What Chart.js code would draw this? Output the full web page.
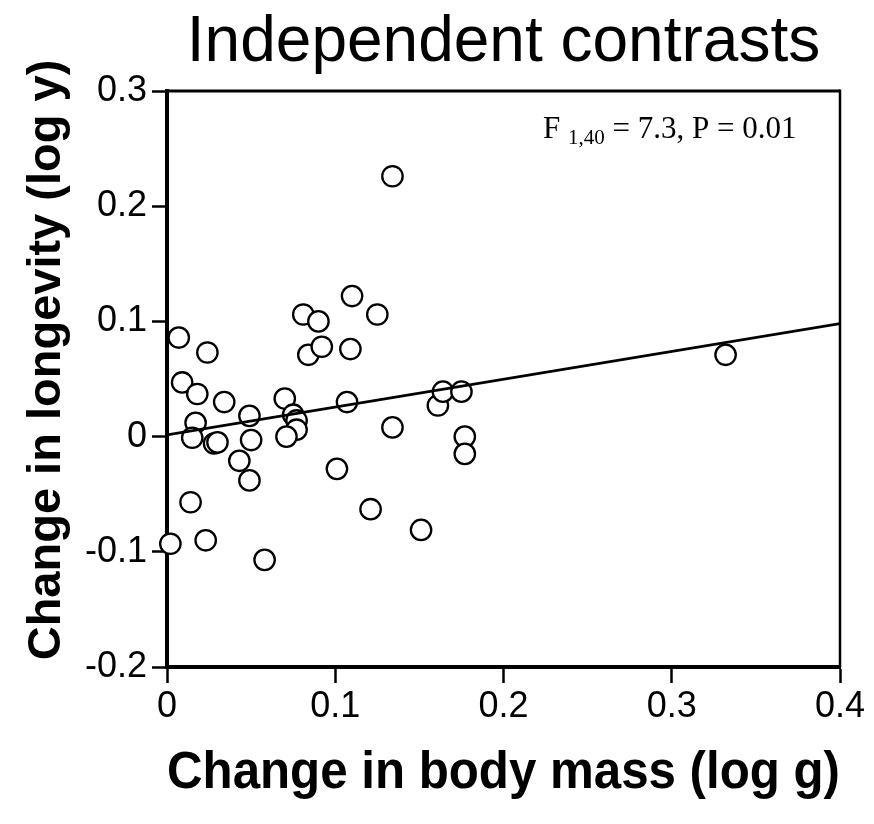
<!DOCTYPE html>
<html>
<head>
<meta charset="utf-8">
<script src="https://cdn.jsdelivr.net/npm/chart.js@4.4.1/dist/chart.umd.min.js"></script>
<style>
  html, body { margin: 0; padding: 0; background: #fff; }
</style>
</head>
<body>
<canvas id="chart" width="874" height="824"></canvas>
<script>
// --- Data ---
const massChange = [0.007, 0.024, 0.009, 0.018, 0.034, 0.017, 0.015, 0.028, 0.030, 0.049,
  0.050, 0.043, 0.049, 0.014, 0.002, 0.023, 0.058, 0.070, 0.075, 0.077,
  0.077, 0.071, 0.081, 0.090, 0.084, 0.092, 0.110, 0.109, 0.125, 0.107,
  0.101, 0.121, 0.134, 0.134, 0.151, 0.161, 0.164, 0.175, 0.177, 0.177, 0.332];
const longevityChange = [0.086, 0.073, 0.047, 0.037, 0.030, 0.012, -0.001, -0.006, -0.005, 0.018,
  -0.003, -0.021, -0.038, -0.057, -0.093, -0.090, -0.107, 0.033, 0.019, 0.014,
  0.006, 0.000, 0.106, 0.100, 0.071, 0.078, 0.122, 0.076, 0.106, 0.030,
  -0.028, -0.063, 0.226, 0.008, -0.081, 0.027, 0.039, 0.039, 0.000, -0.015, 0.071];
const fitX = [0, 0.4];
const fitY = [0.0015, 0.098];
const xRange = [0, 0.4];
const yRange = [-0.2, 0.3];
const tickStep = 0.1;

const chartTitle = 'Independent contrasts';
const xTitle = 'Change in body mass (log g)';
const yTitle = 'Change in longevity (log y)';
const statMain = 'F ';
const statSub = '1,40';
const statRest = ' = 7.3, P = 0.01';

const SANS = '"Liberation Sans", Arial, Helvetica, sans-serif';
const SERIF = '"Liberation Serif", "Times New Roman", serif';

// y title, closed frame and stats text are drawn by hand
const extras = {
  id: 'extras',
  afterDraw(chart) {
    const { ctx, chartArea: a } = chart;
    ctx.save();
    ctx.strokeStyle = '#000';
    ctx.lineWidth = 3;
    ctx.beginPath();
    ctx.moveTo(a.left, a.top);
    ctx.lineTo(a.right, a.top);
    ctx.stroke();
    ctx.lineWidth = 2.5;
    ctx.beginPath();
    ctx.moveTo(a.right, a.top - 1.5);
    ctx.lineTo(a.right, a.bottom);
    ctx.stroke();

    ctx.fillStyle = '#000';
    ctx.textBaseline = 'alphabetic';
    ctx.textAlign = 'left';
    let x = a.right - 297;
    const y = a.top + 47;
    ctx.font = '31px ' + SERIF;
    ctx.fillText(statMain, x, y);
    x += ctx.measureText(statMain).width;
    ctx.font = '21px ' + SERIF;
    ctx.fillText(statSub, x, y + 6);
    x += ctx.measureText(statSub).width;
    ctx.font = '31px ' + SERIF;
    ctx.fillText(statRest, x, y);

    ctx.font = 'bold 47px ' + SANS;
    ctx.textAlign = 'center';
    ctx.translate(60, (a.top + a.bottom) / 2 - 19);
    ctx.rotate(-Math.PI / 2);
    ctx.fillText(yTitle, 0, 0);
    ctx.restore();
  }
};

new Chart(document.getElementById('chart'), {
  type: 'scatter',
  data: {
    datasets: [
      {
        type: 'line',
        data: fitX.map((v, i) => ({ x: v, y: fitY[i] })),
        borderColor: '#000',
        borderWidth: 2.7,
        pointRadius: 0,
        order: 0
      },
      {
        data: massChange.map((v, i) => ({ x: v, y: longevityChange[i] })),
        pointRadius: 10.2,
        borderWidth: 2.3,
        borderColor: '#000',
        backgroundColor: '#fff',
        clip: false,
        order: 1
      }
    ]
  },
  options: {
    responsive: false,
    animation: false,
    devicePixelRatio: 1,
    layout: { padding: { left: 0, right: 34, top: 0, bottom: 0 } },
    plugins: {
      legend: { display: false },
      tooltip: { enabled: false },
      title: {
        display: true,
        text: chartTitle,
        color: '#000',
        fullSize: false,
        font: { family: SANS, size: 64, weight: 'normal', lineHeight: 1 },
        padding: { top: 11, bottom: 16 }
      }
    },
    scales: {
      x: {
        type: 'linear',
        min: xRange[0],
        max: xRange[1],
        z: 1,
        afterFit: s => { s.height = 157; },
        ticks: { stepSize: tickStep, color: '#000', padding: 2, font: { family: SANS, size: 36 } },
        grid: { drawOnChartArea: false, tickLength: 16, tickWidth: 2.5, tickColor: '#000' },
        border: { color: '#000', width: 4 },
        title: {
          display: true,
          text: xTitle,
          color: '#000',
          font: { family: SANS, size: 51, weight: 'bold', lineHeight: 1.2 },
          padding: { top: 0, bottom: 19 }
        }
      },
      y: {
        type: 'linear',
        min: yRange[0],
        max: yRange[1],
        z: 1,
        afterFit: s => { s.width = 167; },
        ticks: { stepSize: tickStep, color: '#000', padding: 5, font: { family: SANS, size: 36 } },
        grid: { drawOnChartArea: false, tickLength: 15, tickWidth: 2.5, tickColor: '#000' },
        border: { color: '#000', width: 4 }
      }
    }
  },
  plugins: [extras]
});
</script>
</body>
</html>
